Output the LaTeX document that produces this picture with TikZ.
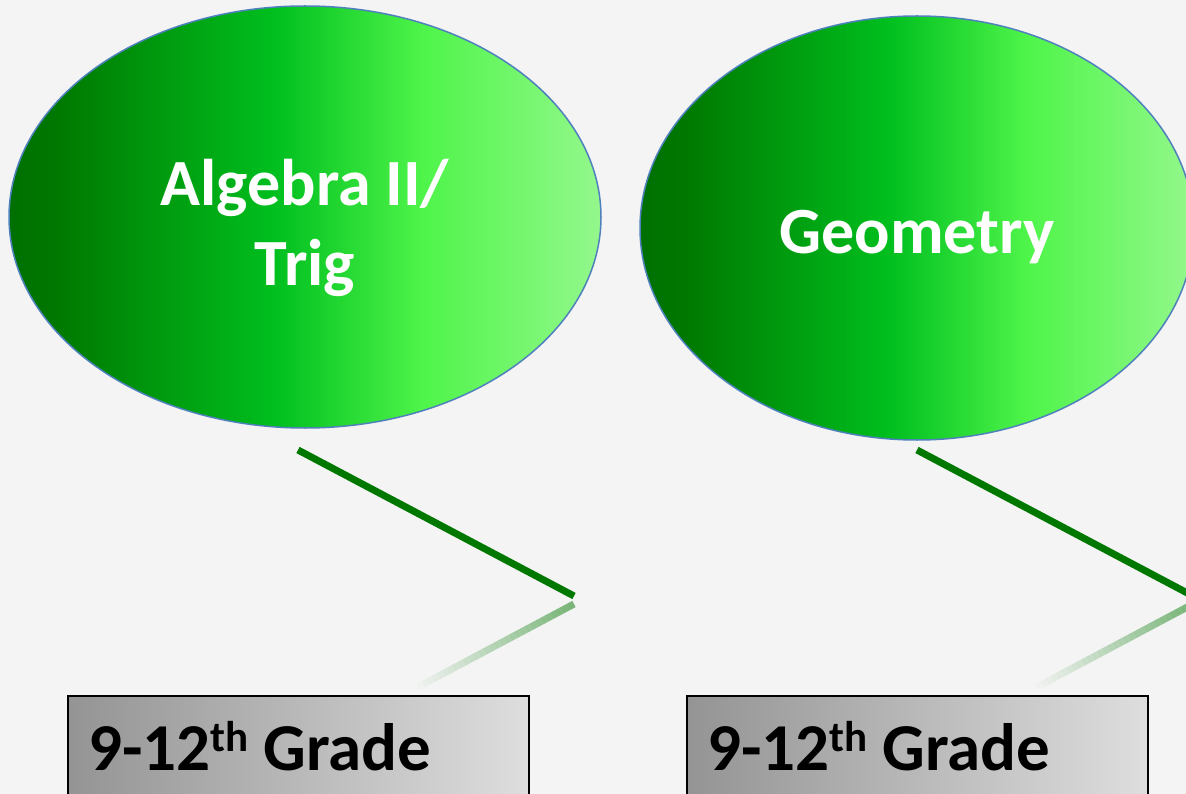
\documentclass[tikz,border=0pt]{standalone}
\usepackage{fontspec}
\setmainfont{Carlito}
\usetikzlibrary{shapes.geometric,calc}
\definecolor{bg}{RGB}{244,244,244}
\definecolor{ellborder}{RGB}{79,129,189}
\definecolor{linegreen}{RGB}{0,120,0}
\pgfdeclarehorizontalshading{greenell}{100bp}{rgb(0bp)=(0,0.44,0); rgb(25bp)=(0,0.44,0); rgb(29bp)=(0,0.47,0); rgb(47.5bp)=(0,0.75,0.12); rgb(60bp)=(0.31,0.96,0.29); rgb(75bp)=(0.58,0.97,0.55); rgb(100bp)=(0.58,0.97,0.55)}
\pgfdeclarehorizontalshading{graybox}{100bp}{rgb(0bp)=(0.58,0.58,0.58); rgb(25bp)=(0.58,0.58,0.58); rgb(75bp)=(0.87,0.87,0.87); rgb(100bp)=(0.87,0.87,0.87)}
\newcommand{\supth}{\raisebox{19pt}{\fontsize{43}{43}\selectfont th}}
\tikzset{
  bubble/.style={ellipse, draw=ellborder, line width=1.5pt, shading=greenell, inner sep=0pt},
  bubbletext/.style={text=white, font=\fontsize{66}{80}\selectfont\bfseries, align=center, inner sep=0pt},
  gradebox/.style={draw=black, line width=2pt, shading=graybox, inner sep=0pt, minimum width=461pt, minimum height=140pt, anchor=north west},
  gradetext/.style={text=black, font=\fontsize{67}{80}\selectfont\bfseries, inner sep=0pt, anchor=base west},
  stem/.style={linegreen, line width=7pt},
}
\begin{document}
\begin{tikzpicture}[x=1pt,y=-1pt]
\fill[bg] (0,0) rectangle (1186,794);
\useasboundingbox (0,0) rectangle (1186,794);
% ellipses
\node[bubble, minimum width=592pt, minimum height=422pt] (e1) at (305,217) {};
\node[bubbletext] (t1) at (305,228) {Algebra II/\\Trig};
\node[bubble, minimum width=554pt, minimum height=424pt] (e2) at (917,228) {};
\node[bubbletext] (t2) at (917,237) {Geometry};
% stems
\coordinate (s1a) at (298,450);
\coordinate (s1b) at (574,596);
\coordinate (r1a) at (574,604);
\coordinate (r1b) at (418,687);
\coordinate (s2a) at (917,450);
\coordinate (s2b) at (1193,596);
\coordinate (r2a) at (1193,604);
\coordinate (r2b) at (1037,687);
\draw[stem] (s1a) -- (s1b);
\draw[stem] (s2a) -- (s2b);
\foreach \i in {0,...,29}{
  \pgfmathsetmacro{\op}{0.5*(1-\i/30)}
  \draw[linegreen, line width=7pt, opacity=\op] ($(r1a)!\i/30!(r1b)$) -- ($(r1a)!{(\i+1)/30}!(r1b)$);
  \draw[linegreen, line width=7pt, opacity=\op] ($(r2a)!\i/30!(r2b)$) -- ($(r2a)!{(\i+1)/30}!(r2b)$);
}
% boxes
\node[gradebox] (b1) at (67,695) {};
\node[gradebox] (b2) at (686,695) {};
\node[gradetext] (g1) at (88,770) {9-12\supth{} Grade};
\node[gradetext] (g2) at (707,770) {9-12\supth{} Grade};
\end{tikzpicture}
\end{document}
